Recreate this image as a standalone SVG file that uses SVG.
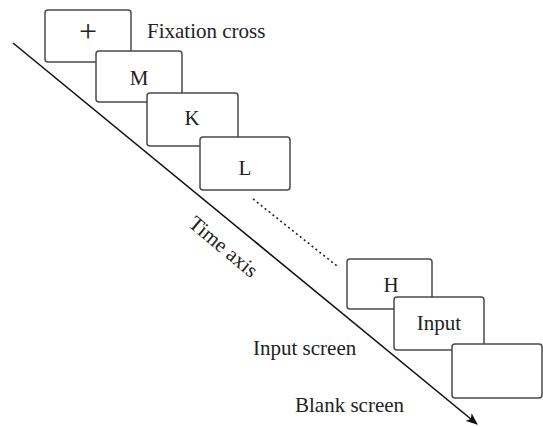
<svg xmlns="http://www.w3.org/2000/svg" width="543" height="427" viewBox="0 0 543 427">
<style>
.box{fill:#fff;stroke:#4a4a4a;stroke-width:1.5}
.t{font-family:"Liberation Serif","Times New Roman",serif;font-size:21px;fill:#222}
.c{text-anchor:middle}
</style>
<defs>
<marker id="ah" markerWidth="12" markerHeight="10" refX="11" refY="5" orient="auto" markerUnits="userSpaceOnUse">
<path d="M0,0 L12,5 L0,10 L3,5 Z" fill="#111"/>
</marker>
</defs>
<rect width="543" height="427" fill="#fff"/>
<g id="connectors">
<line x1="13" y1="43" x2="477" y2="424" stroke="#111" stroke-width="1.6" marker-end="url(#ah)"/>
<line x1="253" y1="199" x2="337" y2="266" stroke="#222" stroke-width="1.6" stroke-dasharray="2,3"/>
</g>
<g id="fixation"><rect class="box" x="45" y="10" width="86" height="52" rx="3"/><text class="t c" x="88" y="42" style="font-size:32px">+</text></g>
<g id="m"><rect class="box" x="96" y="51" width="86" height="51" rx="3"/><text class="t c" x="139" y="85">M</text></g>
<g id="k"><rect class="box" x="147" y="93" width="91" height="53" rx="3"/><text class="t c" x="192" y="125">K</text></g>
<g id="l"><rect class="box" x="200" y="137" width="90" height="53" rx="3"/><text class="t c" x="245" y="175">L</text></g>
<g id="h"><rect class="box" x="347" y="259" width="85" height="50" rx="3"/><text class="t c" x="391" y="292">H</text></g>
<g id="input"><rect class="box" x="394" y="297" width="90" height="53" rx="3"/><text class="t c" x="439" y="330">Input</text></g>
<g id="blank"><rect class="box" x="452" y="344" width="90" height="54" rx="3"/></g>
<g id="labels">
<text class="t" x="147" y="38">Fixation cross</text>
<text class="t c" x="219" y="252" transform="rotate(40 219 252)">Time axis</text>
<text class="t" x="253" y="355">Input screen</text>
<text class="t" x="295" y="412">Blank screen</text>
</g>
</svg>
